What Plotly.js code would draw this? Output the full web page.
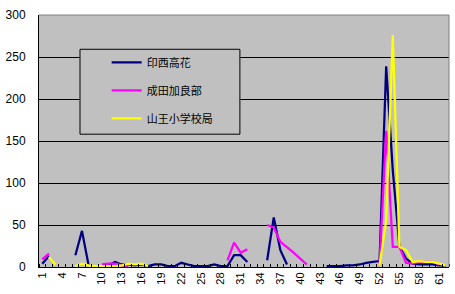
<!DOCTYPE html>
<html>
<head>
<meta charset="utf-8">
<script src="https://cdn.plot.ly/plotly-3.0.1.min.js"></script>
<style>
  html, body { margin: 0; padding: 0; background: #ffffff; }
  #chart { width: 455px; height: 294px; }
</style>
</head>
<body>
<div id="chart"></div>
<script>
// Category positions along the horizontal axis (1 .. 62)
const categories = [
  1, 2, 3, 4, 5, 6, 7, 8, 9, 10, 11, 12, 13, 14, 15, 16, 17, 18, 19, 20,
  21, 22, 23, 24, 25, 26, 27, 28, 29, 30, 31, 32, 33, 34, 35, 36, 37, 38, 39, 40,
  41, 42, 43, 44, 45, 46, 47, 48, 49, 50, 51, 52, 53, 54, 55, 56, 57, 58, 59, 60,
  61, 62
];

// Labelled categories (every third)
const tickLabels = ['1', '4', '7', '10', '13', '16', '19', '22', '25', '28', '31',
  '34', '37', '40', '43', '46', '49', '52', '55', '58', '61'];

const seriesNames = ['印西高花', '成田加良部', '山王小学校局'];

// 印西高花
const inzai = [
  4, 13, null, null, null, 14, 43, 2, null, null,
  2, 6, 3, 3, 2, 3, 1, 3, 3, 1,
  1, 5, 3, 1, 1, 1, 3, 1, 1, 14,
  14, 6, null, null, 8, 59, 20, 3, null, null,
  null, null, null, 1, 1, 1, 2, 2, 3, 5,
  6, 7, 239, 115, 25, 10, 4, 3, 3, 3,
  2, 2
];

// 成田加良部
const narita = [
  9, 16, null, null, null, null, null, null, null, 3,
  4, 4, 2, 1, null, null, null, null, null, null,
  null, null, null, null, null, null, null, null, 8, 29,
  17, 21, null, null, 50, 47, 30, 24, 17, 10,
  3, null, null, null, null, null, null, null, null, null,
  null, 3, 162, 24, 24, 5, 4, 6, 6, 6,
  3, null
];

// 山王小学校局
const sanno = [
  null, 12, 3, null, null, 1, 4, 2, 1, 1,
  1, 1, 2, 4, 3, 4, 1, null, null, null,
  null, null, null, null, null, null, null, null, null, null,
  null, null, null, null, null, null, null, null, null, null,
  null, null, null, null, null, null, null, null, null, null,
  null, 2, 55, 276, 24, 20, 6, 7, 6, 6,
  4, 2
];

const seriesValues = [inzai, narita, sanno];
const seriesColors = ['#000080', '#FF00FF', '#FFFF00'];

const traces = seriesValues.map((vals, i) => ({
  type: 'scatter',
  mode: 'lines',
  x: categories,
  y: vals,
  name: seriesNames[i],
  legendgroup: 'g' + i,
  connectgaps: false,
  line: { color: seriesColors[i], width: 2.25 },
  hoverinfo: 'skip'
}));

const labelVals = tickLabels.map(Number);
const boundaryVals = categories.map(c => c - 0.5).concat([categories[categories.length - 1] + 0.5]);

const fontFamily = '"Liberation Sans", Arial, "Noto Sans CJK JP", sans-serif';

const layout = {
  width: 455,
  height: 294,
  margin: { l: 39, r: 6, t: 15, b: 27, pad: 0 },
  paper_bgcolor: '#ffffff',
  plot_bgcolor: '#C0C0C0',
  font: { family: fontFamily, color: '#000000', size: 11 },
  showlegend: true,
  xaxis: {
    type: 'linear',
    range: [0.5, 62.5],
    tickmode: 'array',
    tickvals: labelVals,
    ticktext: tickLabels,
    tickangle: -90,
    ticks: '',
    tickfont: { size: 11, family: fontFamily, color: '#000000' },
    showline: true,
    linecolor: '#000000',
    linewidth: 1,
    showgrid: false,
    zeroline: false,
    fixedrange: true,
    minor: {
      tickmode: 'array',
      tickvals: boundaryVals,
      ticks: 'inside',
      ticklen: 3,
      tickwidth: 1,
      tickcolor: '#000000',
      showgrid: false
    }
  },
  yaxis: {
    range: [0, 300],
    tick0: 0,
    dtick: 50,
    ticks: '',
    ticklabelstandoff: 10,
    tickfont: { size: 12, family: fontFamily, color: '#000000' },
    showline: true,
    linecolor: '#000000',
    linewidth: 1,
    showgrid: true,
    gridcolor: '#000000',
    gridwidth: 1,
    zeroline: false,
    fixedrange: true
  },
  legend: {
    x: 0.165,
    y: 0.87,
    xanchor: 'left',
    yanchor: 'top',
    bgcolor: 'rgba(0,0,0,0)',
    borderwidth: 0,
    itemwidth: 30,
    tracegroupgap: 9,
    traceorder: 'grouped',
    font: { family: '"Noto Sans CJK JP", sans-serif', size: 11, color: '#000000' }
  },
  shapes: [
    // legend frame
    {
      type: 'rect', xref: 'paper', yref: 'paper',
      x0: 0.1, x1: 0.49, y0: 0.527, y1: 0.864,
      fillcolor: '#C0C0C0',
      line: { color: '#000000', width: 1 },
      layer: 'above'
    },
    // top and right plot border
    {
      type: 'line', xref: 'paper', yref: 'paper',
      x0: 0, x1: 1, y0: 1, y1: 1,
      line: { color: '#808080', width: 1 }, layer: 'above'
    },
    {
      type: 'line', xref: 'paper', yref: 'paper',
      x0: 1, x1: 1, y0: 0, y1: 1,
      line: { color: '#808080', width: 1 }, layer: 'above'
    }
  ]
};

Plotly.newPlot('chart', traces, layout, { staticPlot: true, displayModeBar: false });
</script>
</body>
</html>
